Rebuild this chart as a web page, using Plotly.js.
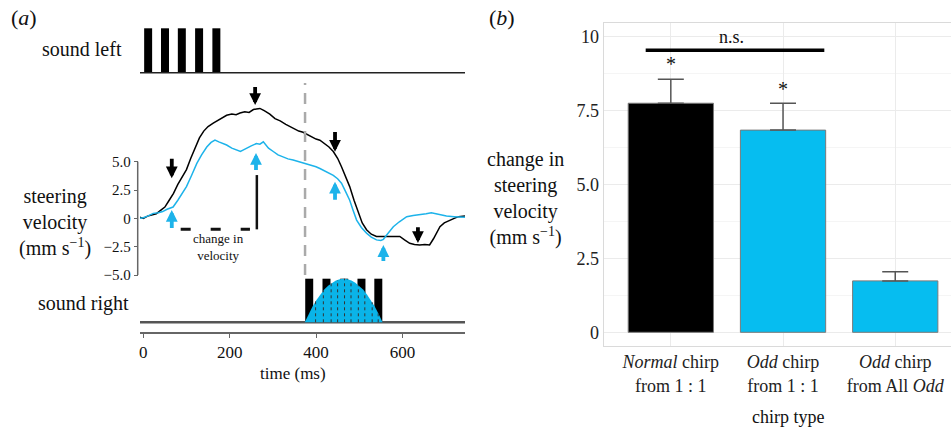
<!DOCTYPE html>
<html><head><meta charset="utf-8">
<script src="https://cdn.plot.ly/plotly-3.0.1.min.js"></script>
<style>html,body{margin:0;padding:0;background:#fff}</style>
</head><body><div id="chart" style="width:951px;height:430px"></div>
<script>
// ---------- DATA: panel (a) ----------
const timeBlack = [-8,0,10,20,30,40,50,60,70,80,90,100,110,120,130,140,150,162,175,185,193,205,215,224,235,245,255,262,270,280,293,305,317,330,340,350,360,370,380,390,400,409,420,430,440,450,459,468,478,488,498,507,517,528,540,555,571,585,594,605,617,628,640,652,663,672,680,687,697,710,720,730,745];
const velBlack  = [0.1,0.0,0.2,0.3,0.4,0.7,1.0,1.6,2.2,3.0,3.6,4.3,5.3,6.2,7.1,7.7,8.1,8.4,8.7,8.9,9.1,9.2,9.15,9.3,9.4,9.35,9.6,9.65,9.7,9.5,9.2,8.8,8.6,8.3,8.1,7.9,7.7,7.6,7.4,7.2,7.0,6.9,6.6,6.3,5.9,5.3,4.55,3.7,2.8,1.6,0.44,-0.4,-1.0,-1.4,-1.6,-1.6,-1.6,-1.55,-1.6,-1.9,-2.2,-2.3,-2.35,-2.3,-2.35,-1.8,-1.2,-0.74,-0.4,-0.15,0.0,0.15,0.2];
const timeBlue  = [-8,0,10,23,35,45,55,69,80,90,100,112,124,135,147,157,166,175,185,193,205,216,225,232,239,250,262,270,278,290,301,312,325,335,347,360,370,378,390,400,409,420,430,440,450,459,468,478,486,494,505,517,528,540,550,556,565,579,593,610,625,640,655,667,680,690,702,720,735,745];
const velBlue   = [0.0,0.05,0.2,0.44,0.5,0.6,0.8,1.0,1.6,2.2,2.8,3.8,4.85,5.6,6.3,6.7,6.9,6.75,6.6,6.47,6.2,6.0,5.9,6.05,6.2,6.4,6.6,6.55,6.76,6.2,5.9,5.6,5.4,5.25,5.15,5.0,4.9,4.85,4.7,4.55,4.4,4.2,4.0,3.8,3.5,3.1,2.4,1.6,0.7,-0.15,-0.8,-1.3,-1.65,-1.9,-1.95,-1.85,-1.4,-0.74,-0.3,0.15,0.25,0.3,0.4,0.5,0.4,0.3,0.2,0.15,0.1,0.1];

const leftPulseStarts  = [2, 41, 80, 120, 160];
const rightPulseStarts = [375, 415, 456, 496, 535];
const pulseWidth = 18.5;
const traceStart = -8, traceEnd = 745;

const envTime = [374,383,392,401,410,419,428,437,446,455,464,473,482,491,500,509,518,527,536,545,554];
const envAmp  = [0,0.19,0.36,0.51,0.64,0.75,0.84,0.91,0.96,0.99,1,0.99,0.96,0.91,0.84,0.75,0.64,0.51,0.36,0.19,0];
const dotTimes   = [399,417,435,450,466,481,498,513,530,544];
const dotHeights = [0.48,0.73,0.90,0.97,1.0,0.96,0.86,0.70,0.46,0.21];

const blackArrowT    = [66, 259, 444, 636];
const blackArrowTip  = [3.53, 10.0, 5.88, -2.18];
const blackArrowTail = [5.44, 11.76, 7.8, -0.6];
const blueArrowT     = [66, 261, 444, 556];
const blueArrowTip   = [0.73, 5.76, 3.23, -2.36];
const blueArrowTail  = [-1.03, 4.09, 1.47, -3.95];

const stimulusOnset = 374.6;
const changeRef = {t0: 86.6, t1: 247, tv: 263, vLow: -0.97, vHigh: 3.82};

const timeTicks = [0, 200, 400, 600];
const velTicks = [5, 2.5, 0, -2.5, -5];
const velTickText = ['5.0', '2.5', '0', '\u22122.5', '\u22125.0'];

// ---------- DATA: panel (b) ----------
const barCats = [1, 2, 3];
const barLabels = ['<i>Normal</i> chirp<br>from 1 : 1', '<i>Odd</i> chirp<br>from 1 : 1', '<i>Odd</i> chirp<br>from All <i>Odd</i>'];
const barMeans = [7.75, 6.84, 1.74];
const barErr = [0.81, 0.91, 0.31];
const bTicks = [0, 2.5, 5, 7.5, 10];
const bTickText = ['0', '2.5', '5.0', '7.5', '10'];
const nsSpan = [0.776, 2.368];
const nsLevel = 9.54;

// ---------- helpers ----------
const W = 951, H = 430;
const fx = p => p / W;
const fy = p => 1 - p / H;
const FONT = "'Liberation Serif', 'Times New Roman', serif";
const BLUE = '#1DB3EA';
const BARBLUE = '#06BDF0';

const traces = [];
// sound left
traces.push({type:'scatter', mode:'lines', x:[traceStart, traceEnd], y:[0,0], xaxis:'x', yaxis:'y2',
  line:{color:'#222', width:1.5}, hoverinfo:'skip'});
traces.push({type:'bar', x:leftPulseStarts.map(s => s + pulseWidth/2), y:leftPulseStarts.map(() => 1),
  width:leftPulseStarts.map(() => pulseWidth), xaxis:'x', yaxis:'y2', marker:{color:'#000', line:{width:0}}});
// sound right
traces.push({type:'scatter', mode:'lines', x:[traceStart, traceEnd], y:[0,0], xaxis:'x', yaxis:'y3',
  line:{color:'#555', width:2.5}, hoverinfo:'skip'});
traces.push({type:'bar', x:rightPulseStarts.map(s => s + pulseWidth/2), y:rightPulseStarts.map(() => 1),
  width:rightPulseStarts.map(() => pulseWidth), xaxis:'x', yaxis:'y3', marker:{color:'#000', line:{width:0}}});
traces.push({type:'scatter', mode:'lines', x:envTime, y:envAmp, xaxis:'x', yaxis:'y3', fill:'toself',
  fillcolor:'#0AB4E8', line:{width:0, color:'#0AB4E8'}});
const dx = [], dy = [];
dotTimes.forEach((t, i) => { dx.push(t, t, null); dy.push(0, dotHeights[i], null); });
traces.push({type:'scatter', mode:'lines', x:dx, y:dy, xaxis:'x', yaxis:'y3', line:{color:'#333', width:1, dash:'dot'}});
// steering velocity
traces.push({type:'scatter', mode:'lines', x:timeBlack, y:velBlack, xaxis:'x', yaxis:'y', line:{color:'#000', width:1.5}});
traces.push({type:'scatter', mode:'lines', x:timeBlue, y:velBlue, xaxis:'x', yaxis:'y', line:{color:BLUE, width:1.5}});
// panel b
traces.push({type:'bar', x:barCats, y:barMeans, xaxis:'x2', yaxis:'y4', width:0.76,
  marker:{color:['#000', BARBLUE, BARBLUE], line:{color:'#7a7a7a', width:1}},
  error_y:{type:'data', symmetric:false, array:barErr, arrayminus:[0,0,0], color:'#555', thickness:1.5, width:13}});

const annotations = [];
function txt(text, x, y, size, opts) {
  annotations.push(Object.assign({text:text, x:x, y:y, xref:'paper', yref:'paper', showarrow:false,
    xanchor:'center', yanchor:'middle', font:{family:FONT, size:size, color:'#111'}}, opts || {}));
}
txt('(<i>a</i>)', fx(24), fy(18), 22);
txt('(<i>b</i>)', fx(502), fy(17), 22);
txt('sound left', fx(82), fy(49), 20);
txt('steering<br>velocity<br>(mm s<sup>\u22121</sup>)', fx(55), fy(222), 20);
txt('sound right', fx(83.5), fy(303), 20);
txt('time (ms)', fx(293), fy(373), 17);
txt('change in<br>steering<br>velocity<br>(mm s<sup>\u22121</sup>)', fx(525), fy(198), 20);
txt('chirp type', fx(788), fy(417), 18);
txt('change in<br>velocity', 175, -2.57, 13, {xref:'x', yref:'y'});
txt('n.s.', 1.543, 10.0, 18, {xref:'x2', yref:'y4'});
txt('*', 1, 9.09, 20, {xref:'x2', yref:'y4'});
txt('*', 2, 8.24, 20, {xref:'x2', yref:'y4'});

function arrow(t, tip, tail, color) {
  annotations.push({x:t, y:tip, ax:t, ay:tail, xref:'x', yref:'y', axref:'x', ayref:'y', text:' ',
    font:{size:1}, showarrow:true, arrowhead:2, arrowsize:0.62, arrowwidth:3.8, arrowcolor:color, standoff:0, startstandoff:0});
}
blackArrowT.forEach((t, i) => arrow(t, blackArrowTip[i], blackArrowTail[i], '#000'));
blueArrowT.forEach((t, i) => arrow(t, blueArrowTip[i], blueArrowTail[i], BLUE));

const shapes = [
  {type:'line', xref:'paper', yref:'y', x0:fx(137.7), x1:fx(137.7), y0:-5, y1:5, line:{color:'#666', width:1.5}},
  {type:'line', xref:'x', yref:'paper', x0:stimulusOnset, x1:stimulusOnset, y0:fy(275), y1:fy(83), line:{color:'#aaa', width:2.5, dash:'11px,8px'}},
  {type:'line', xref:'x', yref:'y', x0:changeRef.t0, x1:changeRef.t1, y0:changeRef.vLow, y1:changeRef.vLow, line:{color:'#111', width:3, dash:'10px,20px'}},
  {type:'line', xref:'x', yref:'y', x0:changeRef.tv, x1:changeRef.tv, y0:changeRef.vLow, y1:changeRef.vHigh, line:{color:'#111', width:2.5}},
  {type:'line', xref:'x2', yref:'y4', x0:nsSpan[0], x1:nsSpan[1], y0:nsLevel, y1:nsLevel, line:{color:'#000', width:3.5}}
];

const layout = {
  width:W, height:H, margin:{l:0, r:0, t:0, b:0}, showlegend:false, barmode:'overlay',
  paper_bgcolor:'#fff', plot_bgcolor:'rgba(0,0,0,0)',
  font:{family:FONT, color:'#111'},
  xaxis:{domain:[fx(140), fx(465)], range:[-7.6, 745], anchor:'y3', showline:true, linecolor:'#666', linewidth:1.5,
    ticks:'outside', ticklen:4, tickcolor:'#666', tickvals:timeTicks, tickfont:{family:FONT, size:17, color:'#111'},
    showgrid:false, zeroline:false, fixedrange:true},
  yaxis:{domain:[fy(280), fy(80)], range:[-5.44, 12.21], anchor:'free', position:fx(137.7), showline:false,
    ticks:'outside', ticklen:4, tickcolor:'#666', tickvals:velTicks, ticktext:velTickText,
    tickfont:{family:FONT, size:15, color:'#111'}, showgrid:false, zeroline:false},
  yaxis2:{domain:[fy(76), fy(24)], range:[-0.0743, 1.0968], anchor:'x', showticklabels:false, ticks:'', showline:false, showgrid:false, zeroline:false},
  yaxis3:{domain:[fy(332), fy(276)], range:[-0.2225, 1.062], anchor:'x', showticklabels:false, ticks:'', showline:false, showgrid:false, zeroline:false},
  xaxis2:{domain:[fx(603.5), 1], range:[0.4, 3.497], anchor:'y4', tickvals:barCats, ticktext:barLabels,
    tickfont:{family:FONT, size:18, color:'#222'}, showgrid:true, gridcolor:'#ebebeb', gridwidth:1,
    showline:true, mirror:true, linecolor:'#dadada', linewidth:1, ticks:'', zeroline:false},
  yaxis4:{domain:[fy(345.7), fy(22.7)], range:[-0.453, 10.474], anchor:'x2', tickvals:bTicks, ticktext:bTickText,
    tickfont:{family:FONT, size:18, color:'#222'}, showgrid:true, gridcolor:'#ebebeb', gridwidth:1,
    minor:{tick0:0, dtick:1.25, showgrid:true, gridcolor:'#f5f5f5', ticks:''},
    showline:true, linecolor:'#dadada', linewidth:1, ticks:'', zeroline:false},
  annotations:annotations, shapes:shapes
};

Plotly.newPlot('chart', traces, layout, {staticPlot:true, displayModeBar:false});
</script></body></html>
